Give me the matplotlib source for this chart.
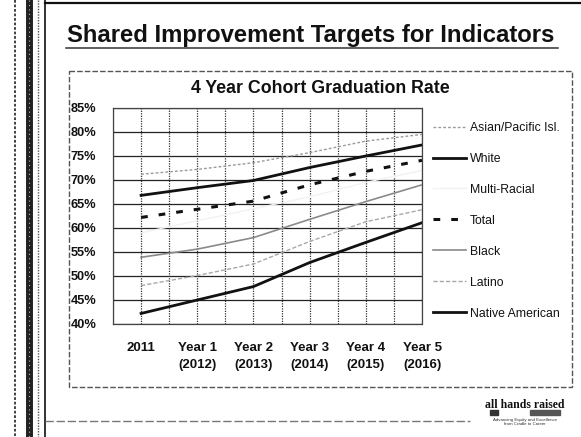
import matplotlib
matplotlib.use("Agg")
import matplotlib.pyplot as plt
from matplotlib.patches import Rectangle

plt.rcParams['font.family'] = ['Liberation Sans', 'DejaVu Sans']

# ---- data ----
categories = ["2011", "Year 1\n(2012)", "Year 2\n(2013)", "Year 3\n(2014)",
              "Year 4\n(2015)", "Year 5\n(2016)"]
asian = [71.2, 72.2, 73.6, 75.7, 78.1, 79.5]
white = [66.8, 68.4, 69.9, 72.6, 75.0, 77.3]
multi_racial = [59.0, 61.5, 64.0, 66.5, 69.5, 72.0]
total = [62.2, 63.9, 65.6, 69.0, 71.8, 74.1]
black = [53.9, 55.6, 58.0, 61.8, 65.5, 69.0]
latino = [48.0, 50.1, 52.5, 57.2, 61.3, 63.8]
native_american = [42.2, 45.0, 47.8, 52.8, 57.0, 61.1]
y_ticks = [40, 45, 50, 55, 60, 65, 70, 75, 80, 85]
y_tick_labels = ["40%", "45%", "50%", "55%", "60%", "65%", "70%", "75%", "80%", "85%"]

W, H = 581, 437
fig = plt.figure(figsize=(W / 100, H / 100), dpi=100)
fig.patch.set_facecolor("white")

def fx(px):
    return px / W

def fy(py):
    return 1 - py / H

# ---- slide decorations ----
deco = fig.add_axes([0, 0, 1, 1])
deco.set_xlim(0, W)
deco.set_ylim(H, 0)
deco.axis("off")
deco.plot([45, 581], [3, 3], color="#111111", lw=1.6)
deco.plot([15, 15], [0, H], color="#333333", lw=1.3, ls=(0, (1.5, 1)))
deco.plot([29, 29], [0, H], color="#222222", lw=5.0)
deco.plot([29, 29], [0, H], color="#bbbbbb", lw=0.8, ls=(0, (1, 3)))
deco.plot([38, 38], [0, H], color="#555555", lw=1.0, ls=(0, (1, 1)))
deco.plot([45, 45], [0, H], color="#111111", lw=1.2)
deco.plot([45, 470], [421, 421], color="#777777", lw=1.0, ls=(0, (6, 2)))
deco.add_patch(Rectangle((69, 71), 503, 316, fill=False, ec="#555555", lw=1.0,
                         ls=(0, (4, 1.5))))
deco.text(67, 42, "Shared Improvement Targets for Indicators", fontsize=17.2,
          fontweight="bold", color="#111111", ha="left", va="baseline")
deco.plot([66, 558], [47.5, 47.5], color="#333333", lw=1.1)
deco.text(320, 93, "4 Year Cohort Graduation Rate", fontsize=12.8,
          fontweight="bold", color="#111111", ha="center", va="baseline")
deco.text(525, 405, "all hands raised", fontsize=8.5, fontweight="bold",
          family="Liberation Serif", color="#111111", ha="center", va="center")
deco.text(525, 422, "Advancing Equity and Excellence\nfrom Cradle to Career",
          fontsize=3.2, color="#333333", ha="center", va="center", linespacing=1.1)
deco.add_patch(Rectangle((490, 410), 8, 5, color="#333333"))
deco.add_patch(Rectangle((530, 410), 30, 5, color="#555555"))

# ---- chart ----
ax = fig.add_axes([fx(113), fy(324), fx(422) - fx(113), fy(108) - fy(324)])
x = list(range(len(categories)))

ax.set_xlim(-0.5, 5.0)
ax.set_ylim(40, 85)

for yv in y_ticks:
    ax.axhline(yv, color="#222222", lw=0.9, zorder=1)
for k in range(12):
    ax.axvline(-0.5 + 0.5 * k, color="#333333", lw=0.9, ls=(0, (1, 1)), zorder=1)

ax.plot(x, asian, color="#9a9a9a", lw=1.0, ls=(0, (2, 1.5)), label="Asian/Pacific Isl.", zorder=3)
ax.plot(x, white, color="#111111", lw=2.0, label="White", zorder=4)
ax.plot(x, multi_racial, color="#f2f2f2", lw=1.0, label="Multi-Racial", zorder=2)
ax.plot(x, total, color="#111111", lw=2.2, ls=(0, (2.2, 3.6)), label="Total", zorder=4)
ax.plot(x, black, color="#8a8a8a", lw=1.2, label="Black", zorder=3)
ax.plot(x, latino, color="#a8a8a8", lw=1.0, ls=(0, (3, 1.5)), label="Latino", zorder=3)
ax.plot(x, native_american, color="#111111", lw=2.0, label="Native American", zorder=4)

ax.set_yticks(y_ticks)
ax.set_yticklabels(y_tick_labels, fontsize=9.2, fontweight="bold", color="#111111")
ax.set_xticks(x)
ax.set_xticklabels(categories, fontsize=9.5, fontweight="bold", color="#111111",
                   linespacing=1.5)
ax.tick_params(axis="both", length=0)
ax.tick_params(axis="y", pad=12)
ax.tick_params(axis="x", pad=13)
for s in ax.spines.values():
    s.set_color("#444444")
    s.set_linewidth(0.9)
    s.set_linestyle((0, (1, 1)))

leg = fig.legend(*ax.get_legend_handles_labels(), loc="center left",
                 bbox_to_anchor=(fx(433), fy(220.7)), frameon=False,
                 fontsize=8.8, handlelength=2.7, handletextpad=0.3,
                 labelspacing=1.55, borderpad=0, borderaxespad=0)
for t in leg.get_texts():
    t.set_color("#111111")

fig.savefig("out.png", dpi=100)
